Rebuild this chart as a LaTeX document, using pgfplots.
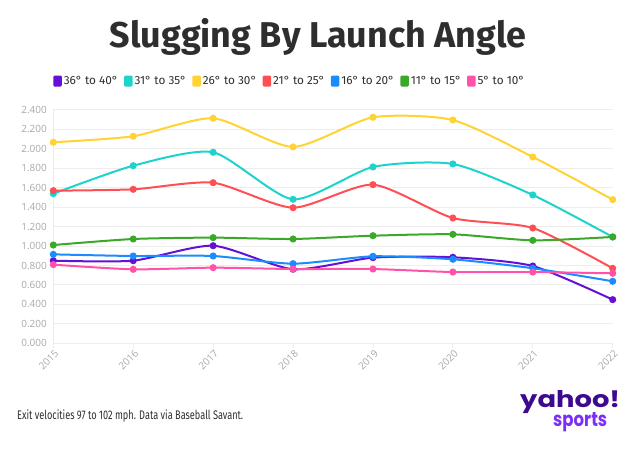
\documentclass[border=0pt]{standalone}
\usepackage{pgfplots}
\pgfplotsset{compat=1.18}
\usepackage{fontspec}
\setmainfont{Fira Sans}
\newfontfamily\ticfont{Open Sans}
\newfontfamily\logofont{Poppins}
\usepackage{graphicx}
\definecolor{cPurple}{HTML}{6410D6}
\definecolor{cCyan}{HTML}{1ED3CC}
\definecolor{cYellow}{HTML}{FFD333}
\definecolor{cRed}{HTML}{FF4F55}
\definecolor{cBlue}{HTML}{1A8CFF}
\definecolor{cGreen}{HTML}{3BA82A}
\definecolor{cPink}{HTML}{FF52A8}
\definecolor{gridgray}{HTML}{EDEDED}
\definecolor{tickgray}{HTML}{A8A8A8}
\definecolor{titlegray}{HTML}{2E2E2E}
\definecolor{yDark}{HTML}{3D0A8F}
\definecolor{yLight}{HTML}{7D2EF5}
\begin{document}
\begin{tikzpicture}
\path[use as bounding box] (0,0) rectangle (640bp,456bp);
\node[font=\fontsize{36}{40}\selectfont\bfseries, text=titlegray, anchor=center, inner sep=0] at (318bp,419bp) {Slugging By Launch Angle};
\node[anchor=west, inner sep=0, text=titlegray] at (17bp,40bp) {\resizebox{226bp}{\height}{\fontsize{12.5}{14}\selectfont Exit velocities 97 to 102 mph. Data via Baseball Savant.}};
\node[anchor=south west, inner sep=0, text=yDark] at (520bp,42bp) {\resizebox{100bp}{17bp}{\logofont\bfseries yahoo!}};
\node[anchor=south west, inner sep=0, text=yLight] at (553bp,24bp) {\resizebox{54bp}{14bp}{\logofont\bfseries sports}};
\begin{axis}[
  at={(53.3bp,112.7bp)}, anchor=south west,
  scale only axis, width=559.4bp, height=233.3bp,
  xmin=2015, xmax=2022, ymin=0, ymax=2.4,
  axis lines=left,
  axis line style={-, draw=gridgray, line width=0.8bp},
  xtick={2015,2016,2017,2018,2019,2020,2021,2022},
  ytick={0,0.2,0.4,0.6,0.8,1.0,1.2,1.4,1.6,1.8,2.0,2.2,2.4},
  ymajorgrids,
  grid style={draw=gridgray, line width=1bp},
  tick align=outside,
  major tick length=5bp,
  xtick style={draw=gridgray, line width=0.8bp},
  ytick style={draw=none},
  /pgf/number format/assume math mode=true,
  xticklabel style={rotate=45, anchor=north east, font=\ticfont\fontsize{10}{12}\selectfont, text=tickgray, /pgf/number format/1000 sep={}, inner sep=1bp, xshift=1bp},
  yticklabel style={font=\ticfont\fontsize{10}{12}\selectfont, text=tickgray, /pgf/number format/.cd, fixed, fixed zerofill, precision=3, /tikz/.cd, xshift=2bp},
  every axis plot/.append style={smooth, tension=0.4, line width=2bp, mark=*, mark size=2.5bp, mark options={solid}},
  legend columns=-1,
  legend style={draw=none, fill=none, at={(0.423,1.124)}, anchor=center,
    font=\fontsize{11.8}{14}\selectfont, text=titlegray,
    /tikz/every even column/.append style={column sep=4bp}},
  legend image code/.code={\fill[#1, draw=none, rounded corners=1.2bp] (0bp,-5.5bp) rectangle (8.5bp,5.5bp);},
]
\addplot[color=cPurple] coordinates {(2015,0.850) (2016,0.850) (2017,1.004) (2018,0.762) (2019,0.881) (2020,0.885) (2021,0.795) (2022,0.449)};
\addlegendentry{36° to 40°}
\addplot[color=cCyan] coordinates {(2015,1.539) (2016,1.827) (2017,1.965) (2018,1.481) (2019,1.814) (2020,1.845) (2021,1.526) (2022,1.094)};
\addlegendentry{31° to 35°}
\addplot[color=cYellow] coordinates {(2015,2.068) (2016,2.130) (2017,2.315) (2018,2.020) (2019,2.325) (2020,2.297) (2021,1.917) (2022,1.478)};
\addlegendentry{26° to 30°}
\addplot[color=cRed] coordinates {(2015,1.570) (2016,1.584) (2017,1.652) (2018,1.395) (2019,1.632) (2020,1.289) (2021,1.186) (2022,0.771)};
\addlegendentry{21° to 25°}
\addplot[color=cBlue] coordinates {(2015,0.915) (2016,0.898) (2017,0.898) (2018,0.819) (2019,0.895) (2020,0.864) (2021,0.772) (2022,0.638)};
\addlegendentry{16° to 20°}
\addplot[color=cGreen] coordinates {(2015,1.011) (2016,1.073) (2017,1.087) (2018,1.073) (2019,1.107) (2020,1.121) (2021,1.059) (2022,1.094)};
\addlegendentry{11° to 15°}
\addplot[color=cPink] coordinates {(2015,0.809) (2016,0.761) (2017,0.778) (2018,0.764) (2019,0.764) (2020,0.733) (2021,0.733) (2022,0.720)};
\addlegendentry{5° to 10°}
\end{axis}
\end{tikzpicture}
\end{document}
